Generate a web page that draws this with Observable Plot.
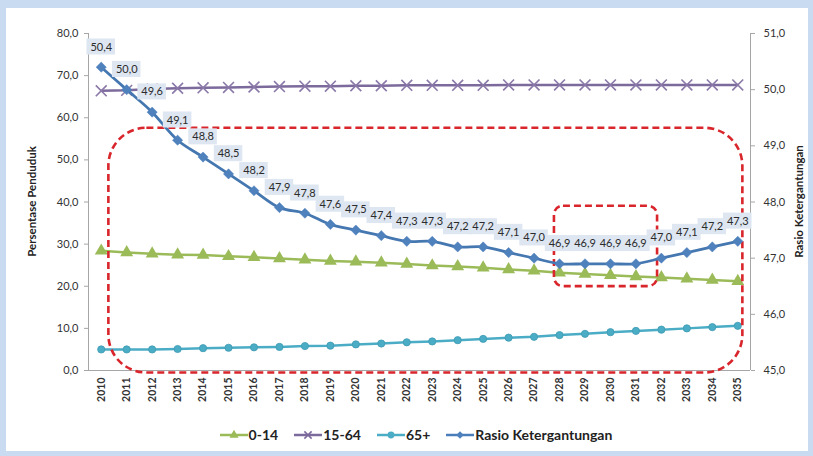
<!DOCTYPE html>
<html>
<head>
<meta charset="utf-8">
<script src="https://cdn.jsdelivr.net/npm/d3@7"></script>
<script src="https://cdn.jsdelivr.net/npm/@observablehq/plot@0.6"></script>
<style>
  html, body { margin: 0; padding: 0; background: #fff; }
  #wrap {
    position: relative; width: 813px; height: 456px; box-sizing: border-box;
    border-style: solid; border-color: #c9dbf1; border-width: 8px 5px 5px 6px;
    background: #fff; font-family: Lato, "Open Sans", sans-serif; overflow: hidden;
  }
  #legend {
    display: flex; justify-content: center; align-items: center; gap: 16px;
    padding-left: 18px; margin-top: 8px; font: bold 14px Lato, sans-serif; color: #222;
  }
  #legend .item { display: flex; align-items: center; gap: 1px; }
</style>
</head>
<body>
<div id="wrap"><div id="chart"></div><div id="legend"></div></div>
<script>
const years = [2010,2011,2012,2013,2014,2015,2016,2017,2018,2019,2020,2021,2022,2023,2024,2025,2026,2027,2028,2029,2030,2031,2032,2033,2034,2035];
const age0_14 = [28.4,28.0,27.7,27.5,27.4,27.1,26.9,26.6,26.3,26.0,25.8,25.6,25.3,24.9,24.7,24.4,24.0,23.7,23.2,22.9,22.6,22.3,22.1,21.8,21.5,21.2];
const age15_64 = [66.4,66.5,66.8,67.0,67.1,67.2,67.3,67.4,67.5,67.5,67.6,67.6,67.7,67.7,67.7,67.7,67.8,67.8,67.8,67.8,67.8,67.8,67.8,67.8,67.8,67.8];
const age65 = [5.0,5.0,5.0,5.1,5.3,5.4,5.5,5.6,5.8,5.9,6.2,6.4,6.7,6.9,7.2,7.5,7.8,8.0,8.4,8.7,9.1,9.4,9.7,10.0,10.3,10.6];
const ratio = [50.4,50.0,49.6,49.1,48.8,48.5,48.2,47.9,47.8,47.6,47.5,47.4,47.3,47.3,47.2,47.2,47.1,47.0,46.9,46.9,46.9,46.9,47.0,47.1,47.2,47.3];
const leftTicks = [0,10,20,30,40,50,60,70,80];
const rightTicks = [45,46,47,48,49,50,51];
const seriesNames = ["0-14","15-64","65+","Rasio Ketergantungan"];
const seriesColors = ["#9bbb59","#7d6a9c","#4bacc6","#4a7ebb"];
// annotation highlight boxes (year range, left-axis value range)
const bigBox = [{x1: 2010.3, x2: 2035.2, y1: -0.6, y2: 57.5}];
const smallBox = [{x1: 2027.8, x2: 2031.85, y1: 19.9, y2: 39.0}];

const fmt = v => v.toFixed(1).replace(".", ",");
const rMin = 45, rMax = 51, lMax = 80;
const toLeft = r => (r - rMin) * lMax / (rMax - rMin);
const fromLeft = v => v * (rMax - rMin) / lMax + rMin;

const rows = years.map((y, i) => ({year: y, a: age0_14[i], b: age15_64[i], c: age65[i], r: ratio[i], rl: toLeft(ratio[i])}));
const labelLift = 4.8; // label offset above point in left units

const W = 802, H = 410;
const chart = Plot.plot({
  width: W, height: H,
  marginLeft: 82, marginRight: 58, marginTop: 25, marginBottom: 48,
  style: {fontFamily: "Lato, 'Open Sans', sans-serif", fontSize: "11px", color: "#333", background: "transparent"},
  x: {type: "linear", domain: [2009.5, 2035.5]},
  y: {domain: [0, 80]},
  marks: [
    Plot.ruleX([2009.5], {stroke: "#a6a6a6"}),
    Plot.ruleX([2035.5], {stroke: "#a6a6a6"}),
    Plot.ruleY([0], {stroke: "#a6a6a6"}),
    Plot.axisY(leftTicks, {anchor: "left", tickFormat: fmt, tickSize: 4, tickPadding: 6, label: null, stroke: "#a6a6a6", fill: "#333"}),
    Plot.axisY(rightTicks.map(toLeft), {anchor: "right", tickFormat: d => fmt(fromLeft(d)), tickSize: 4, tickPadding: 9, label: null, stroke: "#a6a6a6", fill: "#333"}),
    Plot.axisX(years, {tickRotate: -90, tickFormat: d => String(d), tickSize: 0, tickPadding: 7, label: null, fontWeight: "bold", fill: "#333", fontSize: 10.5}),
    // 65+
    Plot.line(rows, {x: "year", y: "c", stroke: seriesColors[2], strokeWidth: 2.5}),
    Plot.dot(rows, {x: "year", y: "c", symbol: "circle", r: 3.6, fill: seriesColors[2], stroke: "#3d9ab3", strokeWidth: 0.8}),
    // 0-14
    Plot.line(rows, {x: "year", y: "a", stroke: seriesColors[0], strokeWidth: 2.5}),
    Plot.dot(rows, {x: "year", y: "a", symbol: "triangle", r: 4.8, fill: seriesColors[0], stroke: "none"}),
    // 15-64
    Plot.line(rows, {x: "year", y: "b", stroke: seriesColors[1], strokeWidth: 2.5}),
    Plot.dot(rows, {x: "year", y: "b", symbol: "times", r: 5, stroke: "#8a78a8", strokeWidth: 1.6}),
    // annotation boxes
    Plot.rect(bigBox, {x1: "x1", x2: "x2", y1: "y1", y2: "y2", fill: "none", stroke: "#d9262c", strokeWidth: 2.6, strokeDasharray: "7,4", rx: 38}),
    Plot.rect(smallBox, {x1: "x1", x2: "x2", y1: "y1", y2: "y2", fill: "none", stroke: "#d9262c", strokeWidth: 2.6, strokeDasharray: "7,4", rx: 9}),
    // ratio (secondary axis)
    Plot.line(rows, {x: "year", y: "rl", stroke: "#4577b0", strokeWidth: 2.8, curve: "catmull-rom"}),
    Plot.dot(rows, {x: "year", y: "rl", symbol: "diamond2", r: 4.6, fill: "#4f81bd", stroke: "#4f81bd", strokeWidth: 0.5}),
    // data labels
    Plot.rect(rows, {x1: d => d.year - 0.56, x2: d => d.year + 0.56, y1: d => d.rl + labelLift - 1.9, y2: d => d.rl + labelLift + 1.9, fill: "#dde6f1"}),
    Plot.text(rows, {x: "year", y: d => d.rl + labelLift, text: d => fmt(d.r), fill: "#2b2b2b", fontSize: 11})
  ]
});
document.getElementById("chart").appendChild(chart);

// axis titles
const svg = d3.select(chart);
svg.append("text").attr("transform", `translate(27,${(25 + H - 48) / 2}) rotate(-90)`)
  .attr("text-anchor", "middle").attr("dominant-baseline", "middle")
  .attr("font-weight", "bold").attr("font-size", 11.5).attr("fill", "#222")
  .text("Persentase Penduduk");
svg.append("text").attr("transform", `translate(794,${(25 + H - 48) / 2}) rotate(-90)`)
  .attr("text-anchor", "middle").attr("dominant-baseline", "middle")
  .attr("font-weight", "bold").attr("font-size", 11.5).attr("fill", "#222")
  .text("Rasio Ketergantungan");

// legend
const symbols = ["triangle", "times", "circle", "diamond2"];
const legend = d3.select("#legend");
seriesNames.forEach((name, i) => {
  const item = legend.append("div").attr("class", "item");
  const s = item.append("svg").attr("width", 28).attr("height", 14);
  s.append("line").attr("x1", 0).attr("x2", 28).attr("y1", 7).attr("y2", 7)
    .attr("stroke", seriesColors[i]).attr("stroke-width", 2.5);
  const sym = d3.symbol().type({triangle: d3.symbolTriangle, times: d3.symbolTimes, circle: d3.symbolCircle, diamond2: d3.symbolDiamond2}[symbols[i]]).size(36);
  const p = s.append("path").attr("d", sym()).attr("transform", "translate(14,7)");
  if (symbols[i] === "times") p.attr("fill", "none").attr("stroke", seriesColors[i]).attr("stroke-width", 1.5);
  else p.attr("fill", i === 3 ? "#4f81bd" : seriesColors[i]);
  item.append("span").text(name);
});
</script>
</body>
</html>
